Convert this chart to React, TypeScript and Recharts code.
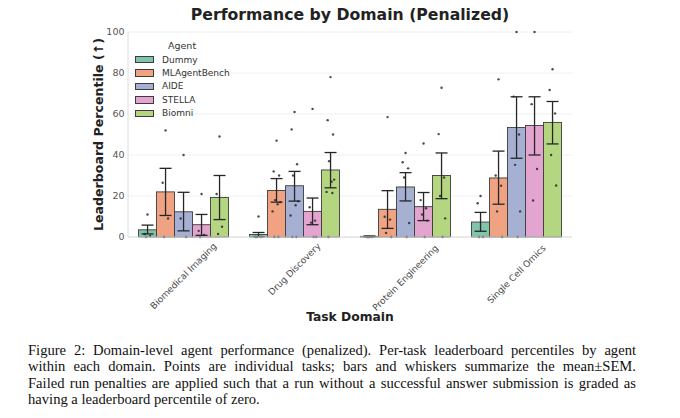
import React from 'react';
import { ComposedChart, Bar, XAxis, YAxis, CartesianGrid, ErrorBar, Legend } from 'recharts';

// Domains and agents
const domains = ['Biomedical Imaging', 'Drug Discovery', 'Protein Engineering', 'Single Cell Omics'];
const agents = ['Dummy', 'MLAgentBench', 'AIDE', 'STELLA', 'Biomni'];
const colors = ['#80c4a9', '#f0a383', '#a6b0d3', '#e3a4cf', '#b4d680'];

// Mean leaderboard percentile per domain
const dummyMean = [3.5, 1.2, 0.3, 7.3];
const mlMean = [22, 22.7, 13.5, 28.8];
const aideMean = [12.3, 25, 24.4, 53.4];
const stellaMean = [6, 12.5, 14.8, 54.4];
const biomniMean = [19.3, 32.7, 30, 55.9];

// Whisker ends (mean - SEM, mean + SEM)
const dummyLo = [1.5, 0.2, 0.1, 2.8];
const dummyHi = [5.8, 2.2, 0.5, 12];
const mlLo = [10.5, 17, 4.2, 16];
const mlHi = [33.5, 28.5, 22.6, 41.9];
const aideLo = [3, 17.5, 17.6, 38.4];
const aideHi = [21.8, 32, 31.4, 68.4];
const stellaLo = [0.8, 6, 8, 40];
const stellaHi = [11, 19, 21.7, 68.4];
const biomniLo = [8.5, 24, 18.7, 45.4];
const biomniHi = [30, 41.2, 41, 66.1];

// Individual task percentiles
const dummyPts = [[11, 1.5, 0.5, 0], [10, 0, 0, 0], [0, 0, 0, 0], [20, 16.5, 0, 0]];
const mlPts = [[52, 26.5, 9, 0], [47, 32, 30, 18, 17, 16, 12.5, 0, 0], [58.5, 9.9, 8.5, 2, 0], [76.9, 30, 25, 12.5, 0]];
const aidePts = [[40, 9, 0], [61, 52.5, 35.5, 30, 17.5, 15.5, 10.5, 0, 0], [41, 36.5, 33.5, 29, 6.8, 0], [100, 68.5, 50, 35.2, 12.5, 0]];
const stellaPts = [[21, 3, 1, 0], [62.5, 14.5, 8, 7, 0, 0], [45.6, 18, 14, 11, 8, 0], [100, 64.8, 33.2, 17.8]];
const biomniPts = [[49, 21, 5, 1.5], [78, 57, 50, 37, 28, 27, 22, 21.5, 0], [72.8, 50.2, 29, 20, 9.1, 0], [81.8, 71.7, 60.3, 40, 25.1]];

const yTicks = [0, 20, 40, 60, 80, 100];

const keys = ['dummy', 'ml', 'aide', 'stella', 'biomni'];
const means = [dummyMean, mlMean, aideMean, stellaMean, biomniMean];
const los = [dummyLo, mlLo, aideLo, stellaLo, biomniLo];
const his = [dummyHi, mlHi, aideHi, stellaHi, biomniHi];
const pts = [dummyPts, mlPts, aidePts, stellaPts, biomniPts];

const data = domains.map((domain, d) => {
  const row: any = { domain };
  keys.forEach((k, a) => {
    row[k] = means[a][d];
    row[k + 'Err'] = [means[a][d] - los[a][d], his[a][d] - means[a][d]];
    row[k + 'Pts'] = pts[a][d];
  });
  return row;
});

const FONT = '"DejaVu Sans", sans-serif';
const jitter = [0, -0.16, 0.14, -0.08, 0.2, 0.06, -0.22, 0.1, -0.12];

// bar rectangle plus the per-task points on top of it
const makeShape = (key: string) => (props: any) => {
  const { x, y, width, height, fill, background, payload } = props;
  const bottom = background ? background.y + background.height : y + height;
  const span = background ? background.height : 205;
  const list: number[] = (payload && payload[key + 'Pts']) || [];
  return (
    <g>
      <rect x={x} y={y} width={width} height={Math.max(height, 0)} fill={fill} stroke="#3c3c3c" strokeWidth={0.9} />
      {list.map((v, i) => (
        <circle
          key={i}
          cx={x + width / 2 + jitter[i % jitter.length] * width}
          cy={bottom - (v / 100) * span}
          r={1.2}
          fill="#2a2a2a"
          fillOpacity={0.85}
        />
      ))}
    </g>
  );
};

const XTick = (props: any) => {
  const { x, y, payload } = props;
  const label = String(payload.value);
  const w = label.length * 4.95;
  const d = -4 + (0.707 * (w + 10)) / 2;
  const cy = y + d;
  return (
    <text
      x={x}
      y={cy}
      textAnchor="middle"
      dominantBaseline="central"
      transform={`rotate(-45, ${x}, ${cy})`}
      fontFamily={FONT}
      fontSize={9}
      fill="#4a4a4a"
    >
      {label}
    </text>
  );
};

const LegendBox = () => (
  <div style={{ fontFamily: FONT, color: '#333', fontSize: 9 }}>
    <div style={{ paddingLeft: 33, height: 15, lineHeight: '15px', fontSize: 9.5 }}>Agent</div>
    {agents.map((a, i) => (
      <div key={a} style={{ display: 'flex', alignItems: 'center', height: 13.4 }}>
        <span
          style={{
            display: 'inline-block',
            width: 17,
            height: 5.5,
            background: colors[i],
            border: '0.9px solid #3c3c3c',
            marginRight: 8,
          }}
        />
        <span>{a}</span>
      </div>
    ))}
  </div>
);

const captionLines = [
  'Figure 2: Domain-level agent performance (penalized). Per-task leaderboard percentiles by agent',
  'within each domain. Points are individual tasks; bars and whiskers summarize the mean\u00b1SEM.',
  'Failed run penalties are applied such that a run without a successful answer submission is graded as',
  'having a leaderboard percentile of zero.',
];

export default function App() {
  return (
    <div style={{ position: 'absolute', left: 0, top: 0, width: 680, height: 418, background: '#fff' }}>
      <div
        style={{
          position: 'absolute',
          left: 0,
          top: 6,
          width: 700,
          textAlign: 'center',
          fontFamily: FONT,
          fontWeight: 'bold',
          fontSize: 15.7,
          lineHeight: '18px',
          color: '#222',
        }}
      >
        Performance by Domain (Penalized)
      </div>
      <div style={{ position: 'absolute', left: 0, top: 0 }}>
        <ComposedChart
          width={680}
          height={330}
          data={data}
          margin={{ top: 32, right: 108, bottom: 18, left: 72 }}
          barCategoryGap="9.5%"
          barGap={0}
        >
          <CartesianGrid vertical={false} stroke="#ececec" strokeWidth={0.8} />
          <XAxis
            dataKey="domain"
            interval={0}
            height={75}
            tickLine={false}
            axisLine={{ stroke: '#dcdcdc' }}
            tick={<XTick />}
            label={{
              value: 'Task Domain',
              position: 'bottom',
              offset: 0,
              style: { fontFamily: FONT, fontWeight: 'bold', fontSize: 12.3, fill: '#222' },
            }}
          />
          <XAxis xAxisId="top" orientation="top" dataKey="domain" height={0} tick={false} tickLine={false} axisLine={{ stroke: '#dcdcdc' }} />
          <YAxis
            domain={[0, 100]}
            ticks={yTicks}
            width={56}
            tickLine={false}
            tickSize={0}
            axisLine={{ stroke: '#dcdcdc' }}
            tickMargin={3.5}
            tick={{ fontFamily: FONT, fontSize: 9.5, fill: '#555' }}
            label={{
              value: 'Leaderboard Percentile (\u2191)',
              angle: -90,
              position: 'center',
              dx: -1,
              style: { fontFamily: FONT, fontWeight: 'bold', fontSize: 12.6, fill: '#222', textAnchor: 'middle' },
            }}
          />
          <YAxis yAxisId="right" orientation="right" domain={[0, 100]} width={0} tick={false} tickLine={false} axisLine={{ stroke: '#dcdcdc' }} />
          <Legend
            layout="horizontal"
            verticalAlign="middle"
            align="center"
            content={<LegendBox />}
            wrapperStyle={{ left: 135, top: 38, width: 'auto', height: 'auto' }}
          />
          {keys.map((k, i) => (
            <Bar key={k} dataKey={k} name={agents[i]} fill={colors[i]} shape={makeShape(k)} isAnimationActive={false}>
              <ErrorBar dataKey={k + 'Err'} width={6} stroke="#262626" strokeWidth={1.3} direction="y" />
            </Bar>
          ))}
        </ComposedChart>
      </div>
      <div
        style={{
          position: 'absolute',
          left: 28,
          top: 342,
          width: 608,
          fontFamily: '"Liberation Serif", "Times New Roman", serif',
          fontSize: 14.6,
          lineHeight: '16.4px',
          color: '#111',
        }}
      >
        {captionLines.map((line, i) => (
          <div
            key={i}
            style={{
              textAlign: 'justify',
              textAlignLast: i < captionLines.length - 1 ? 'justify' : 'left',
              whiteSpace: 'nowrap',
            }}
          >
            {line}
          </div>
        ))}
      </div>
    </div>
  );
}
